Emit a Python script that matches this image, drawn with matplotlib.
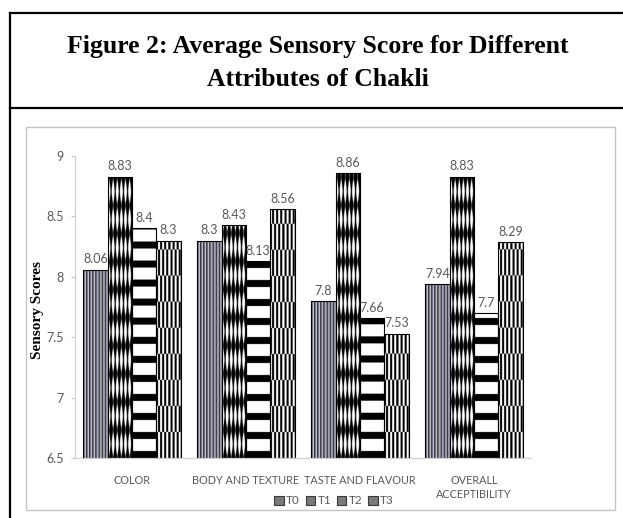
import numpy as np
import matplotlib
matplotlib.use('Agg')
import matplotlib.pyplot as plt
from matplotlib.patches import Rectangle, Patch
from matplotlib.lines import Line2D
from matplotlib import font_manager

# ---------------- data ----------------
categories = ['COLOR', 'BODY AND TEXTURE', 'TASTE AND FLAVOUR', 'OVERALL\nACCEPTIBILITY']
series_names = ['T0', 'T1', 'T2', 'T3']
T0 = [8.06, 8.30, 7.80, 7.94]
T1 = [8.83, 8.43, 8.86, 8.83]
T2 = [8.40, 8.13, 7.66, 7.70]
T3 = [8.30, 8.56, 7.53, 8.29]
y_ticks = [6.5, 7, 7.5, 8, 8.5, 9]
y_tick_labels = ['6.5', '7', '7.5', '8', '8.5', '9']
title_lines = ['Figure 2: Average Sensory Score for Different', 'Attributes of Chakli']
y_label = 'Sensory Scores'

series = [T0, T1, T2, T3]

# ---------------- layout ----------------
W, H = 623, 518
def fx(px):
    return px / W
def fy(py):
    return 1 - py / H

TXT = '#595959'
names = {f.name for f in font_manager.fontManager.ttflist}
if 'Liberation Sans Narrow' in names:
    CAT_FONT = ['Liberation Sans Narrow', 'DejaVu Sans']
    CAT_SIZE = 9.5
else:
    CAT_FONT = ['Lato', 'DejaVu Sans']
    CAT_SIZE = 7.8
CHART_FONT = ['Lato', 'DejaVu Sans']
SERIF = ['Liberation Serif', 'DejaVu Serif']

fig = plt.figure(figsize=(W / 100, H / 100), dpi=100)
fig.patch.set_facecolor('white')

# outer frame lines
for xs, ys in [([fx(10), 1.0], [fy(13), fy(13)]),
               ([fx(10), fx(10)], [fy(13), 0.0]),
               ([fx(10), 1.0], [fy(108), fy(108)])]:
    fig.add_artist(Line2D(xs, ys, color='black', lw=1.6, transform=fig.transFigure))

# inner chart box
fig.add_artist(Rectangle((fx(25.5), fy(510)), (615 - 25.5) / W, (510 - 127) / H,
                         transform=fig.transFigure, fill=False, edgecolor='#c4c4c4', lw=1.0))

# title
fig.text(fx(318), fy(47), title_lines[0], family=SERIF, fontweight='bold',
         fontsize=18.5, ha='center', va='center')
fig.text(fx(318), fy(80), title_lines[1], family=SERIF, fontweight='bold',
         fontsize=18.5, ha='center', va='center')

# axes
ax = fig.add_axes([fx(75), fy(458), (531 - 75) / W, (458 - 156) / H])
ax.set_xlim(-0.5, len(categories) - 0.5)
ax.set_ylim(6.5, 9)
ax.set_facecolor('none')
for s in ['top', 'right']:
    ax.spines[s].set_visible(False)
for s in ['left', 'bottom']:
    ax.spines[s].set_color('#d0d0d0')
    ax.spines[s].set_linewidth(0.9)

ax.set_yticks(y_ticks)
ax.set_yticklabels(y_tick_labels, family=CHART_FONT, fontsize=9, color=TXT)
ax.tick_params(axis='y', length=3, color='#c8c8c8', pad=5)
ax.set_xticks(range(len(categories)))
ax.set_xticklabels(categories, family=CAT_FONT, fontsize=CAT_SIZE, color=TXT, linespacing=1.35)
ax.tick_params(axis='x', length=0, pad=12)

fig.text(fx(38), fy(310), y_label, family=SERIF, fontweight='bold', fontsize=11,
         rotation=90, ha='center', va='center')

# ---------------- patterns ----------------
def pattern(kind, X, Y):
    img = np.ones(X.shape + (3,))
    if kind == 0:
        m = np.floor(X) % 3
        c0 = np.array([0.12, 0.12, 0.14])
        c1 = np.array([0.50, 0.50, 0.60])
        c2 = np.array([0.82, 0.82, 0.86])
        img[m == 0] = c0
        img[m == 1] = c1
        img[m == 2] = c2
    elif kind == 1:
        v = 0.5 + 0.5 * np.cos(2 * np.pi * (X - 1.0) / 4.0)
        t = 0.62 + 0.4 * np.cos(2 * np.pi * Y / 28.0)
        val = np.clip((v - t) / 0.3 + 0.5, 0, 1)
        img[:] = val[..., None]
    elif kind == 2:
        blk = (Y % 19) < 7
        img[blk] = 0.0
    else:
        blk = ((np.floor(X) + 2 * np.floor(Y / 26.0)) % 4) < 2
        img[blk] = 0.0
    return img

w = 0.213
ss = 4
for i, vals in enumerate(series):
    xs = np.arange(len(categories)) + (i - 1.5) * w
    bars = ax.bar(xs, vals, width=w, facecolor='none', edgecolor='black',
                  lw=0.8, zorder=3)
    for rect, v in zip(bars, vals):
        x0 = rect.get_x()
        x1 = x0 + rect.get_width()
        top = rect.get_height()
        p0 = ax.transData.transform((x0, 6.5))
        p1 = ax.transData.transform((x1, top))
        wpx = p1[0] - p0[0]
        hpx = p1[1] - p0[1]
        nx = max(1, int(np.ceil(wpx * ss)))
        ny = max(1, int(np.ceil(hpx * ss)))
        Xg = (np.arange(nx) + 0.5) / nx * wpx
        Yg = (np.arange(ny) + 0.5) / ny * hpx
        XX, YY = np.meshgrid(Xg, Yg)
        img = pattern(i, XX, YY)
        im = ax.imshow(img, origin='lower', extent=(x0, x1, 6.5, top), aspect='auto',
                       interpolation='antialiased', zorder=2)
        im.set_clip_path(rect)
        ax.annotate(f'{v:g}', xy=(rect.get_x() + rect.get_width() / 2, top),
                    xytext=(0, 3), textcoords='offset points', ha='center', va='bottom',
                    fontsize=9, color=TXT, family=CHART_FONT, zorder=4)

ax.set_xlim(-0.5, len(categories) - 0.5)
ax.set_ylim(6.5, 9)

# legend
handles = [Patch(facecolor='#7a7a7a', edgecolor='#3a3a3a', lw=0.8) for _ in series_names]
fig.legend(handles, series_names, ncol=4, loc='center', bbox_to_anchor=(fx(334), fy(501)),
           frameon=False, handlelength=0.8, handleheight=0.8, handletextpad=0.2,
           columnspacing=0.5, prop={'family': CHART_FONT, 'size': 8.5}, labelcolor=TXT)

fig.savefig('out.png', dpi=100, facecolor='white')
